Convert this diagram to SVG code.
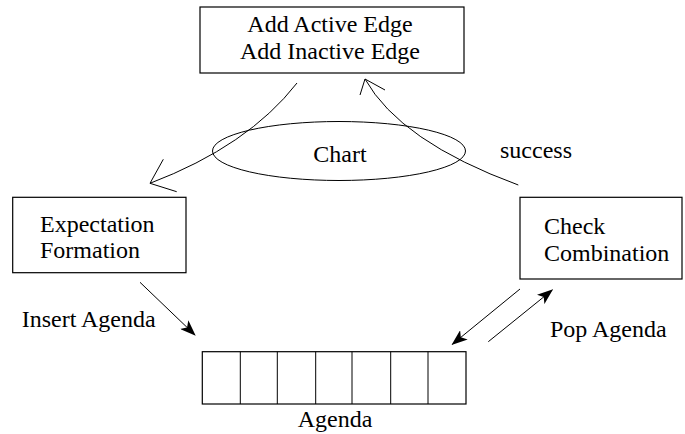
<svg xmlns="http://www.w3.org/2000/svg" width="685" height="434" viewBox="0 0 685 434">
  <style>
    .box { fill: #ffffff; stroke: #000000; stroke-width: 1.2; }
    .ln { fill: none; stroke: #000000; stroke-width: 1; }
    text { font-family: "Liberation Serif", "Times New Roman", serif; font-size: 24px; fill: #000000; }
  </style>
  <defs>
    <marker id="solid" viewBox="0 0 16 12" refX="15" refY="6" markerWidth="16" markerHeight="12" markerUnits="userSpaceOnUse" orient="auto">
      <path d="M0,0 L16,6 L0,12 L4,6 Z" fill="#000000"/>
    </marker>
  </defs>

  <g id="add-edge">
    <rect class="box" x="200" y="7" width="264" height="66"/>
    <text x="330" y="32" text-anchor="middle">Add Active Edge</text>
    <text x="330" y="58.5" text-anchor="middle">Add Inactive Edge</text>
  </g>

  <g id="chart">
    <ellipse class="ln" cx="339" cy="151" rx="126.5" ry="29.5"/>
    <text x="340" y="161.5" text-anchor="middle">Chart</text>
  </g>

  <g id="expectation-formation">
    <rect class="box" x="12.7" y="197.3" width="173.3" height="75.4"/>
    <text x="40" y="231.7">Expectation</text>
    <text x="40" y="258.3">Formation</text>
  </g>

  <g id="check-combination">
    <rect class="box" x="520" y="197.3" width="162" height="81.7"/>
    <text x="544" y="234">Check</text>
    <text x="544" y="261">Combination</text>
  </g>

  <g id="agenda">
    <rect class="box" x="202.3" y="351.7" width="263.7" height="52.3"/>
    <path class="ln" d="M240.3,351.7 V404 M277.3,351.7 V404 M315.7,351.7 V404 M352,351.7 V404 M390.7,351.7 V404 M428,351.7 V404"/>
    <text x="335" y="427.3" text-anchor="middle">Agenda</text>
  </g>

  <g id="connectors">
    <!-- store edges back to expectation formation -->
    <path class="ln" d="M297,83 Q248,146 150,183.3"/>
    <path class="ln" d="M163.3,159.3 L150,183.3 L176.7,191.7"/>
    <!-- successful combination to add edge -->
    <path class="ln" d="M518.3,185 Q400,141.5 365,79"/>
    <path class="ln" d="M360,95 L365,79 L385,90"/>
    <text x="500" y="158">success</text>

    <!-- insert into agenda -->
    <line class="ln" x1="140" y1="282.3" x2="195" y2="335" marker-end="url(#solid)"/>
    <text x="21.7" y="326.7">Insert Agenda</text>

    <!-- check combination and agenda -->
    <line class="ln" x1="520" y1="289" x2="452.3" y2="344.3" marker-end="url(#solid)"/>
    <line class="ln" x1="488.3" y1="341.7" x2="552.3" y2="290" marker-end="url(#solid)"/>
    <text x="550" y="336.7">Pop Agenda</text>
  </g>
</svg>
